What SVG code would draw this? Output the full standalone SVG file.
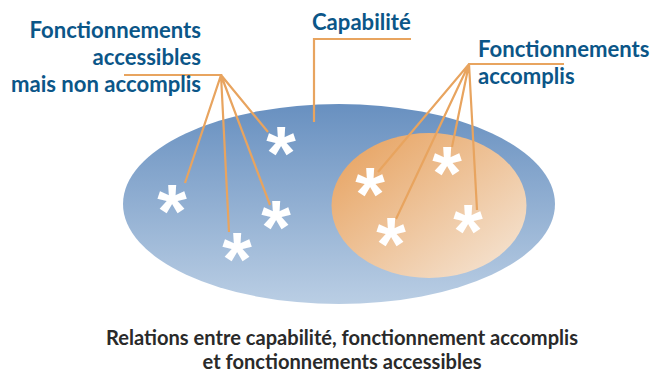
<svg xmlns="http://www.w3.org/2000/svg" width="650" height="372" viewBox="0 0 650 372">
<style>
text{font-family:"Lato","Open Sans","Liberation Sans",sans-serif;font-weight:700}
.l{font-size:22.1px;fill:#0b5688}
.e{text-anchor:end}
.c{font-size:20.1px;fill:#2a2a2a;text-anchor:middle}
.s{font-family:"Liberation Sans",sans-serif;font-size:76px;fill:#fff;text-anchor:middle}
.k{fill:none;stroke:#e8a45f;stroke-width:2.2}
</style>
<defs>
<linearGradient id="b" x1="0" y1="0" x2="0" y2="1"><stop offset="0" stop-color="#6890c0"/><stop offset="1" stop-color="#bacee4"/></linearGradient>
<linearGradient id="o" x1="0.1" y1="0.12" x2="0.88" y2="0.9"><stop offset="0" stop-color="#e8a768"/><stop offset="1" stop-color="#f4e0cc"/></linearGradient>
</defs>
<g id="capabilite-ellipse"><ellipse cx="339" cy="204" rx="216" ry="100" fill="url(#b)"/></g>
<g id="accomplis-ellipse"><ellipse cx="429" cy="205.500" rx="97.500" ry="72.500" fill="url(#o)"/></g>
<g id="connectors">
<path class="k" d="M314 122V39H411"/>
<path class="k" d="M124 75H221L185 183M221 75L268 132M221 75L229 232M221 75L270 205"/>
<path class="k" d="M564 64H469L378 172M469 64L396 219M469 64L452 147M469 64L477 210"/>
</g>
<g id="stars">
<text class="s" x="172" y="237">*</text>
<text class="s" x="281" y="179">*</text>
<text class="s" x="276" y="253">*</text>
<text class="s" x="237" y="285">*</text>
<text class="s" x="370" y="220">*</text>
<text class="s" x="447" y="199">*</text>
<text class="s" x="391" y="270">*</text>
<text class="s" x="468" y="257">*</text>
</g>
<g id="label-accessibles">
<text class="l e" x="201" y="38">Fonctionnements</text>
<text class="l e" x="201" y="65">accessibles</text>
<text class="l e" x="201" y="92">mais non accomplis</text>
</g>
<g id="label-capabilite"><text class="l" x="312" y="30">Capabilité</text></g>
<g id="label-accomplis">
<text class="l" x="478" y="57">Fonctionnements</text>
<text class="l" x="478" y="84">accomplis</text>
</g>
<g id="caption">
<text class="c" x="342" y="345">Relations entre capabilité, fonctionnement accomplis</text>
<text class="c" x="342" y="369">et fonctionnements accessibles</text>
</g>
</svg>
